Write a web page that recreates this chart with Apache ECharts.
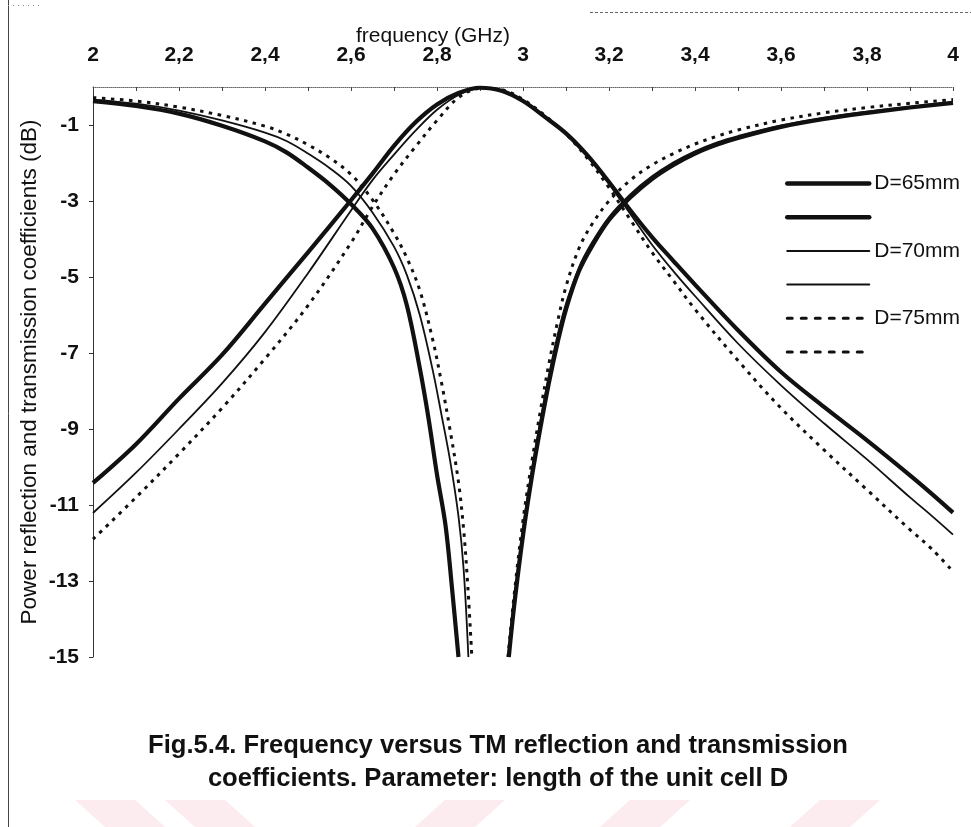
<!DOCTYPE html>
<html>
<head>
<meta charset="utf-8">
<script src="https://cdn.jsdelivr.net/npm/echarts@6/dist/echarts.min.js"></script>
<style>html,body{margin:0;padding:0;background:#fff;}#chart{width:971px;height:827px;}</style>
</head>
<body>
<div id="chart"></div>
<script>
// ---- Data ----
// x tick labels (GHz)
const xTicks = [2, 2.2, 2.4, 2.6, 2.8, 3, 3.2, 3.4, 3.6, 3.8, 4];
// Transmission curves (common frequency grid)
const freqT = [2.0, 2.1, 2.2, 2.3, 2.4, 2.5, 2.6, 2.65, 2.7, 2.75, 2.8, 2.85, 2.9, 2.95, 3.0, 3.05, 3.1, 3.15, 3.2, 3.25, 3.3, 3.35, 3.4, 3.5, 3.6, 3.7, 3.8, 3.9, 3.95, 4.0];
const t65 = [-10.42, -9.4, -8.2, -7.05, -5.7, -4.35, -2.98, -2.28, -1.55, -0.93, -0.46, -0.16, -0.02, -0.1, -0.37, -0.78, -1.22, -1.8, -2.5, -3.25, -3.95, -4.58, -5.2, -6.4, -7.5, -8.42, -9.3, -10.22, -10.7, -11.2];
const t70 = [-11.21, -10.15, -9.0, -7.8, -6.45, -4.9, -3.25, -2.45, -1.78, -1.15, -0.6, -0.21, -0.03, -0.08, -0.36, -0.77, -1.22, -1.82, -2.55, -3.35, -4.15, -4.85, -5.5, -6.75, -7.85, -8.85, -9.8, -10.8, -11.28, -11.78];
const t75 = [-11.9, -10.8, -9.65, -8.45, -7.15, -5.75, -4.1, -3.15, -2.3, -1.57, -0.88, -0.28, -0.04, -0.07, -0.33, -0.74, -1.24, -1.88, -2.65, -3.5, -4.35, -5.1, -5.85, -7.2, -8.45, -9.55, -10.6, -11.65, -12.15, -12.75];
// Reflection curves, branch below resonance
const fR65L = [2.0, 2.1, 2.2, 2.3, 2.4, 2.45, 2.5, 2.55, 2.6, 2.65, 2.7, 2.73, 2.76, 2.78, 2.8, 2.82, 2.835, 2.85];
const r65L  = [-0.37, -0.5, -0.7, -1.02, -1.43, -1.72, -2.12, -2.56, -3.08, -3.72, -4.75, -5.75, -7.4, -8.7, -10.2, -11.55, -13.2, -15.0];
const fR70L = [2.0, 2.1, 2.2, 2.3, 2.4, 2.45, 2.5, 2.55, 2.6, 2.65, 2.7, 2.73, 2.76, 2.79, 2.81, 2.83, 2.85, 2.862, 2.873];
const r70L  = [-0.33, -0.44, -0.62, -0.88, -1.2, -1.42, -1.75, -2.13, -2.6, -3.3, -4.2, -4.95, -6.0, -7.45, -8.6, -9.8, -11.3, -12.7, -15.0];
const fR75L = [2.0, 2.1, 2.2, 2.3, 2.4, 2.45, 2.5, 2.55, 2.6, 2.65, 2.7, 2.73, 2.76, 2.79, 2.81, 2.83, 2.85, 2.862, 2.872, 2.881];
const r75L  = [-0.28, -0.37, -0.53, -0.75, -1.03, -1.24, -1.52, -1.86, -2.3, -2.97, -3.85, -4.5, -5.35, -6.65, -7.75, -9.0, -10.4, -11.65, -13.2, -15.0];
// Reflection curves, branch above resonance
const fR65R = [2.967, 2.98, 3.0, 3.02, 3.04, 3.06, 3.08, 3.1, 3.13, 3.16, 3.2, 3.25, 3.3, 3.35, 3.4, 3.45, 3.5, 3.6, 3.7, 3.8, 3.9, 4.0];
const r65R  = [-15.0, -13.6, -11.8, -10.3, -9.0, -7.8, -6.75, -5.85, -4.85, -4.2, -3.5, -2.9, -2.42, -2.05, -1.75, -1.52, -1.34, -1.05, -0.84, -0.68, -0.54, -0.42];
const fR70R = [2.965, 2.98, 3.0, 3.02, 3.04, 3.06, 3.08, 3.1, 3.13, 3.16, 3.2, 3.25, 3.3, 3.35, 3.4, 3.45, 3.5, 3.6, 3.7, 3.8, 3.9, 4.0];
const r70R  = [-15.0, -13.4, -11.6, -10.1, -8.8, -7.6, -6.55, -5.7, -4.75, -4.1, -3.42, -2.82, -2.35, -1.98, -1.69, -1.46, -1.29, -1.01, -0.81, -0.65, -0.52, -0.4];
const fR75R = [2.965, 2.98, 3.0, 3.02, 3.04, 3.06, 3.08, 3.1, 3.13, 3.16, 3.2, 3.25, 3.3, 3.35, 3.4, 3.45, 3.5, 3.6, 3.7, 3.8, 3.9, 4.0];
const r75R  = [-15.0, -13.3, -11.4, -9.9, -8.55, -7.3, -6.2, -5.25, -4.25, -3.62, -3.0, -2.45, -2.05, -1.75, -1.5, -1.3, -1.13, -0.87, -0.68, -0.54, -0.43, -0.33];
// Legend labels (one per parameter value; the second line of each pair is unlabeled)
const legendLabels = ['D=65mm', '', 'D=70mm', '', 'D=75mm', ''];
const seriesNames = ['R65', 'T65', 'R70', 'T70', 'R75', 'T75'];

// ---- Chart ----
const FONT = "'Liberation Sans', Arial, sans-serif";
const INK = '#111';
function pairs(xs, ys) { return xs.map((x, i) => [x, ys[i]]); }
const styles = {
  '65': { width: 4.2, type: 'solid' },
  '70': { width: 1.8, type: 'solid' },
  '75': { width: 3, type: [3.5, 5.5] }
};
function mk(name, key, data) {
  return {
    name: name, type: 'line', data: data, symbol: 'none', showSymbol: false,
    smooth: 0.35, clip: true, silent: true,
    lineStyle: { color: INK, width: styles[key].width, type: styles[key].type, cap: 'butt' },
    itemStyle: { color: INK }
  };
}
const series = [
  mk('R65', '65', pairs(fR65L, r65L)),
  mk('R65', '65', pairs(fR65R, r65R)),
  mk('T65', '65', pairs(freqT, t65)),
  mk('R70', '70', pairs(fR70L, r70L)),
  mk('R70', '70', pairs(fR70R, r70R)),
  mk('T70', '70', pairs(freqT, t70)),
  mk('R75', '75', pairs(fR75L, r75L)),
  mk('R75', '75', pairs(fR75R, r75R)),
  mk('T75', '75', pairs(freqT, t75))
];
const legendStyle = {
  '65': { width: 4.5, type: 'solid' },
  '70': { width: 2, type: 'solid' },
  '75': { width: 3, type: [5, 9] }
};
const legendData = seriesNames.map(n => {
  const k = n.slice(1);
  return { name: n, itemStyle: { opacity: 0 }, lineStyle: { color: INK, width: legendStyle[k].width, type: legendStyle[k].type, cap: 'round' } };
});

const chart = echarts.init(document.getElementById('chart'), null, { renderer: 'canvas' });
chart.setOption({
  animation: false,
  backgroundColor: '#fff',
  textStyle: { fontFamily: FONT },
  title: {
    text: 'Fig.5.4. Frequency versus TM reflection and transmission\ncoefficients. Parameter: length of the unit cell D',
    left: 493, top: 724, textAlign: 'center',
    textStyle: { fontFamily: FONT, fontSize: 25.6, fontWeight: 'bold', color: INK, lineHeight: 33, align: 'center' }
  },
  legend: {
    data: legendData,
    orient: 'vertical', left: 785, top: 173, padding: 0,
    itemWidth: 82, itemHeight: 20, itemGap: 15.2,
    selectedMode: false,
    formatter: function (n) { return legendLabels[seriesNames.indexOf(n)]; },
    textStyle: { fontFamily: FONT, fontSize: 21, color: INK, lineHeight: 20 }
  },
  grid: { left: 93, right: 18, top: 87, bottom: 170 },
  xAxis: {
    type: 'value', position: 'top', min: 2, max: 4, interval: 0.2,
    name: 'frequency (GHz)', nameLocation: 'middle', nameGap: 40, nameMoveOverlap: false,
    nameTextStyle: { fontFamily: FONT, fontSize: 21, color: INK, padding: [0, 180, 0, 0] },
    axisLine: { show: true, lineStyle: { color: '#666', width: 1, type: 'dotted' } },
    axisTick: { show: true, inside: true, length: 4, lineStyle: { color: '#444' } },
    minorTick: { show: true, splitNumber: 2, length: 4, lineStyle: { color: '#444' } },
    splitLine: { show: false },
    axisLabel: {
      margin: 21, fontFamily: FONT, fontSize: 21, fontWeight: 'bold', color: INK,
      formatter: function (v) {
        const r = Math.round(v * 10) / 10;
        return xTicks.indexOf(r) >= 0 ? String(r).replace('.', ',') : '';
      }
    }
  },
  yAxis: {
    type: 'value', min: -15, max: 0, interval: 2,
    name: 'Power reflection and transmission coefficients (dB)', nameLocation: 'middle', nameGap: 52, nameRotate: 90, nameMoveOverlap: false,
    nameTextStyle: { fontFamily: FONT, fontSize: 22.5, color: INK },
    axisLine: { show: true, lineStyle: { color: '#333', width: 1 } },
    axisTick: { show: true, inside: false, length: 4, lineStyle: { color: '#333' } },
    splitLine: { show: false },
    axisLabel: { margin: 14, fontFamily: FONT, fontSize: 21, fontWeight: 'bold', color: INK, showMaxLabel: false }
  },
  graphic: [
    { type: 'line', silent: true, z: -1, shape: { x1: 8.5, y1: 0, x2: 8.5, y2: 827 }, style: { stroke: '#444', lineWidth: 1 } },
    { type: 'line', silent: true, z: -1, shape: { x1: 590, y1: 12.5, x2: 971, y2: 12.5 }, style: { stroke: '#666', lineWidth: 1, lineDash: [3, 2] } },
    { type: 'line', silent: true, z: -1, shape: { x1: 8, y1: 5.5, x2: 40, y2: 5.5 }, style: { stroke: '#888', lineWidth: 1, lineDash: [1, 4] } },
    { type: 'polygon', silent: true, z: -2, shape: { points: [[75, 800], [135, 800], [165, 827], [105, 827]] }, style: { fill: '#fdecef' } },
    { type: 'polygon', silent: true, z: -2, shape: { points: [[165, 800], [225, 800], [255, 827], [195, 827]] }, style: { fill: '#fdecef' } },
    { type: 'polygon', silent: true, z: -2, shape: { points: [[415, 827], [475, 827], [505, 800], [445, 800]] }, style: { fill: '#fdecef' } },
    { type: 'polygon', silent: true, z: -2, shape: { points: [[600, 827], [660, 827], [690, 800], [630, 800]] }, style: { fill: '#fdecef' } },
    { type: 'polygon', silent: true, z: -2, shape: { points: [[790, 827], [850, 827], [880, 800], [820, 800]] }, style: { fill: '#fdecef' } }
  ],
  series: series
});
</script>
</body>
</html>
